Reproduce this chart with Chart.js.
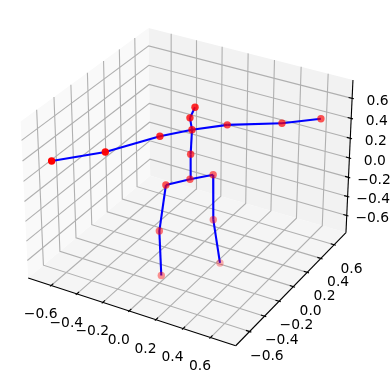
<!DOCTYPE html>
<html>
<head>
<meta charset="utf-8">
<style>
  html, body { margin: 0; padding: 0; background: #fff; }
  canvas { display: block; }
</style>
<script src="https://cdn.jsdelivr.net/npm/chart.js@4"></script>
</head>
<body>
<canvas id="poseChart" width="390" height="375"></canvas>
<script>
// --- Data: joints of the pose, in axis units ---
const jointX = [0, -0.099, -0.131, -0.105, 0.102, 0.107, 0.158, 0.002, 0.015, -0.005, 0.024, -0.127, -0.336, -0.592, 0.174, 0.472, 0.67];
const jointY = [0, -0.144, -0.179, -0.202, 0.129, 0.126, 0.131, 0.005, 0, 0.008, 0.023, -0.168, -0.497, -0.73, 0.184, 0.382, 0.552];
const jointZ = [0, 0, -0.458, -0.896, 0, -0.458, -0.896, 0.25, 0.5, 0.604, 0.708, 0.49, 0.469, 0.438, 0.49, 0.49, 0.5];
const boneFrom = [0, 1, 2, 0, 4, 5, 0, 7, 8, 9, 8, 11, 12, 8, 14, 15];
const boneTo = [1, 2, 3, 4, 5, 6, 7, 8, 9, 10, 11, 12, 13, 14, 15, 16];
const tickValues = [-0.6, -0.4, -0.2, 0, 0.2, 0.4, 0.6];
const tickLabels = ['\u22120.6', '\u22120.4', '\u22120.2', '0.0', '0.2', '0.4', '0.6'];
const axisLimit = 0.78125;

// --- Projection like the default 3D view (elev 30, azim -60) ---
const boxX = 1.19, boxZ = 0.893, viewDist = 10;
const U = [0.866025, 0.5, 0];
const V = [-0.25, 0.433013, 0.866025];
const W = [0.433013, -0.75, 0.5];
const dot = (a, b) => a[0] * b[0] + a[1] * b[1] + a[2] * b[2];

function toBox(x, y, z) {
    return [x / (2 * axisLimit) * boxX, y / (2 * axisLimit) * boxX, z / (2 * axisLimit) * boxZ];
}
function depth(x, y, z) {
    return dot(W, toBox(x, y, z));
}
function project(x, y, z) {
    const d = toBox(x, y, z);
    const k = viewDist - dot(W, d);
    return { x: dot(U, d) / k, y: dot(V, d) / k };
}

// --- Fit of the plot on the page ---
const pxPerUnit = 1998, centerX = 190, centerY = 179.3;
const L = axisLimit;
const tickStep = 2 * L / 12;

const datasets = [];
function addLine(points, color, width, order) {
    datasets.push({
        type: 'scatter', showLine: true, pointRadius: 0, tension: 0,
        data: points.map(p => project(p[0], p[1], p[2])),
        borderColor: color, borderWidth: width, order: order
    });
}
function addPane(points, color) {
    datasets.push({
        type: 'scatter', showLine: true, pointRadius: 0, tension: 0,
        data: points.map(p => project(p[0], p[1], p[2])),
        borderWidth: 0, borderColor: color, backgroundColor: color, fill: 'shape', order: 5
    });
}

// Panes
addPane([[-L, -L, -L], [-L, L, -L], [-L, L, L], [-L, -L, L]], '#f9f9f9');
addPane([[-L, L, -L], [L, L, -L], [L, L, L], [-L, L, L]], '#f2f2f2');
addPane([[-L, -L, -L], [L, -L, -L], [L, L, -L], [-L, L, -L]], '#f5f5f5');

// Grid lines
tickValues.forEach(t => {
    addLine([[t, -L, -L], [t, L, -L], [t, L, L]], '#b0b0b0', 1.1, 4);
    addLine([[L, t, -L], [-L, t, -L], [-L, t, L]], '#b0b0b0', 1.1, 4);
    addLine([[-L, -L, t], [-L, L, t], [L, L, t]], '#b0b0b0', 1.1, 4);
});

// Axis lines and ticks
addLine([[-L, -L, -L], [L, -L, -L]], '#000', 1.1, 3);
addLine([[L, -L, -L], [L, L, -L]], '#000', 1.1, 3);
addLine([[L, L, -L], [L, L, L]], '#000', 1.1, 3);
tickValues.forEach(t => {
    addLine([[t, -L - 0.1 * tickStep, -L], [t, -L + 0.2 * tickStep, -L]], '#000', 1.1, 3);
    addLine([[L + 0.1 * tickStep, t, -L], [L - 0.2 * tickStep, t, -L]], '#000', 1.1, 3);
    addLine([[L + 0.1 * tickStep, L, t], [L - 0.2 * tickStep, L, t]], '#000', 1.1, 3);
});

// Bones
boneFrom.forEach((a, i) => {
    const b = boneTo[i];
    addLine([[jointX[a], jointY[a], jointZ[a]], [jointX[b], jointY[b], jointZ[b]]], '#0000ff', 2.1, 2);
});

// Joints, faded with depth
const depths = jointX.map((x, i) => depth(x, jointY[i], jointZ[i]));
const dMin = Math.min(...depths), dMax = Math.max(...depths);
datasets.push({
    type: 'scatter',
    data: jointX.map((x, i) => project(x, jointY[i], jointZ[i])),
    pointRadius: 3.7,
    pointBorderWidth: 0,
    pointBackgroundColor: depths.map(d => `rgba(255,0,0,${(0.3 + 0.7 * (d - dMin) / (dMax - dMin)).toFixed(3)})`),
    order: 1
});

// --- Tick labels ---
const tickLabelPlugin = {
    id: 'tickLabels',
    afterDatasetsDraw(c) {
        const g = c.ctx;
        const put = (text, p, dx, dy) => {
            g.fillText(text, c.scales.x.getPixelForValue(p.x) + dx, c.scales.y.getPixelForValue(p.y) + dy);
        };
        g.save();
        g.font = '13.89px "DejaVu Sans"';
        g.fillStyle = '#000';
        g.textAlign = 'center';
        g.textBaseline = 'middle';
        tickValues.forEach((t, i) => {
            put(tickLabels[i], project(t, -L, -L), -10.5, 29.3);
            put(tickLabels[i], project(L, t, -L), 17.3, 24.5);
            put(tickLabels[i], project(L, L, t), 25.5, 3.2);
        });
        g.restore();
    }
};

new Chart(document.getElementById('poseChart'), {
    type: 'scatter',
    data: { datasets: datasets },
    plugins: [tickLabelPlugin],
    options: {
        responsive: false,
        animation: false,
        layout: { padding: 0, autoPadding: false },
        plugins: { legend: { display: false }, tooltip: { enabled: false } },
        scales: {
            x: { display: false, type: 'linear', min: -centerX / pxPerUnit, max: (390 - centerX) / pxPerUnit },
            y: { display: false, type: 'linear', min: (centerY - 375) / pxPerUnit, max: centerY / pxPerUnit }
        }
    }
});
</script>
</body>
</html>
